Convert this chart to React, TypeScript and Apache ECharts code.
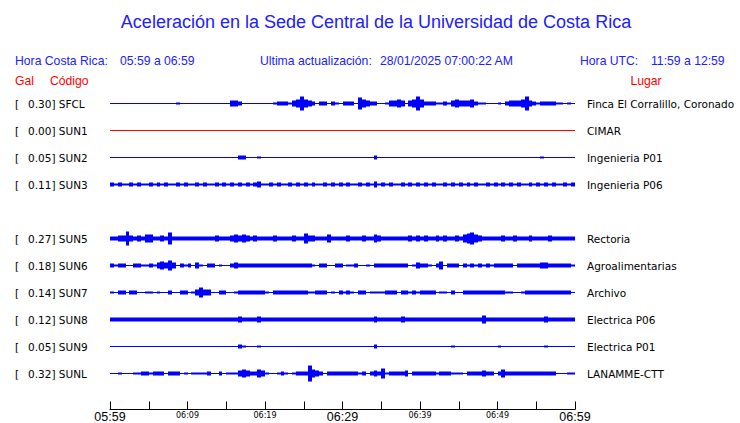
import { useEffect, useRef } from 'react';
import * as echarts from 'echarts';

const TITLE = 'Aceleración en la Sede Central de la Universidad de Costa Rica';
const CODES = ['SFCL', 'SUN1', 'SUN2', 'SUN3', '', 'SUN5', 'SUN6', 'SUN7', 'SUN8', 'SUN9', 'SUNL'];
const GAL = ['0.30', '0.00', '0.05', '0.11', '', '0.27', '0.18', '0.14', '0.12', '0.05', '0.32'];
const PLACES = ['Finca El Corralillo, Coronado', 'CIMAR', 'Ingenieria P01', 'Ingenieria P06', '', 'Rectoria', 'Agroalimentarias', 'Archivo', 'Electrica P06', 'Electrica P01', 'LANAMME-CTT'];
const TIME_TICKS = [0, 10, 20, 30, 40, 50, 60];
const TIME_LABELS = ['05:59', '06:09', '06:19', '06:29', '06:39', '06:49', '06:59'];
const MAJOR_LABELS = ['05:59', '06:29', '06:59'];
const BIN_MINUTES = 0.5;
const AMP_PER_ROW = 27;

// envelope half-amplitudes, one value per 30 s bin (120 bins = 60 min)
const AMP_SFCL = [
  0,0,0,0,0,0,0,0,0,0, 0,0,0,0,0,0,0,1,0,0, 0,0,0,0,0,0,0,0,0,0, 0,3,3,2,0,0,0,0,0,0,
  0,0,1,2,2,2,1,3,4,7, 4,3,2,0,2,2,0,2,1,0, 2,2,2,0,6,4,3,2,2,0, 0,1,3,3,4,3,0,3,4,7,
  4,2,2,2,1,1,2,1,3,4, 3,3,3,4,2,1,1,0,0,0, 1,0,2,3,3,3,4,7,3,2, 1,2,2,2,2,1,1,0,1,0,
];
const AMP_SUN1 = [
  0,0,0,0,0,0,0,0,0,0, 0,0,0,0,0,0,0,0,0,0, 0,0,0,0,0,0,0,0,0,0, 0,0,0,0,0,0,0,0,0,0,
  0,0,0,0,0,0,0,0,0,0, 0,0,0,0,0,0,0,0,0,0, 0,0,0,0,0,0,0,0,0,0, 0,0,0,0,0,0,0,0,0,0,
  0,0,0,0,0,0,0,0,0,0, 0,0,0,0,0,0,0,0,0,0, 0,0,0,0,0,0,0,0,0,0, 0,0,0,0,0,0,0,0,0,0,
];
const AMP_SUN2 = [
  0,0,0,0,0,0,0,0,0,0, 0,0,0,0,0,0,0,0,0,0, 0,0,0,0,0,0,0,0,0,0, 0,0,0,2,2,0,0,0,1,0,
  0,0,0,0,0,0,0,0,0,0, 0,0,0,0,0,0,0,0,0,0, 0,0,0,0,0,0,0,0,2,0, 0,0,0,0,0,0,0,0,0,0,
  0,0,0,0,0,0,0,0,0,0, 0,0,0,0,0,0,0,0,0,0, 0,0,0,0,0,0,0,0,0,0, 0,1,0,0,0,0,0,0,0,0,
];
const AMP_SUN3 = [
  2,1,2,1,1,2,1,2,1,1, 2,1,2,1,2,1,1,2,1,2, 1,1,2,1,2,1,1,2,1,2, 1,2,1,2,1,2,1,2,3,1,
  1,2,1,2,1,1,2,1,2,1, 2,1,2,1,1,2,1,2,1,2, 1,2,1,1,2,1,2,1,3,1, 2,1,2,1,1,2,1,2,1,2,
  1,2,1,2,1,1,2,1,2,1, 2,1,2,1,2,1,1,2,1,2, 1,2,1,2,1,2,1,1,2,1, 2,1,2,1,2,1,1,2,1,2,
];
const AMP_SUN5 = [
  2,2,3,3,7,3,2,3,2,4, 4,2,2,3,2,6,2,2,2,2, 2,2,2,2,2,2,2,3,2,2, 2,3,4,3,4,3,2,3,2,2,
  2,2,3,2,2,2,2,3,2,2, 5,3,3,2,2,2,4,2,2,2, 2,3,2,2,2,3,2,2,4,3, 2,2,2,2,2,2,2,3,2,3,
  2,3,2,2,3,2,3,2,2,3, 2,4,5,6,4,3,2,2,2,2, 2,3,2,2,3,2,2,2,3,2, 2,2,2,3,2,2,2,2,2,2,
];
const AMP_SUN6 = [
  2,1,2,2,0,0,2,2,1,1, 2,1,3,4,3,5,3,0,2,1, 2,0,3,1,0,2,2,0,1,0, 0,2,3,2,2,2,2,2,2,2,
  2,2,2,2,2,2,2,2,2,2, 2,2,1,0,2,2,0,0,2,2, 0,1,1,2,0,0,1,0,2,2, 2,2,2,2,2,2,2,0,1,3,
  2,2,1,0,2,4,0,2,2,2, 0,2,1,2,1,2,1,2,1,2, 2,2,2,2,0,2,2,2,2,2, 2,3,3,2,2,2,2,2,2,1,
];
const AMP_SUN7 = [
  1,0,2,2,0,2,2,0,0,1, 1,0,1,0,0,2,0,0,2,2, 0,1,3,5,3,3,0,0,2,2, 0,0,1,2,2,2,2,2,2,2,
  1,0,2,2,2,2,2,2,2,2, 2,1,1,2,2,2,0,1,0,2, 1,2,1,0,2,2,0,1,1,1, 1,2,2,2,0,2,2,1,2,1,
  2,2,2,2,0,1,1,0,2,0, 0,2,2,2,2,2,2,2,2,2, 2,2,1,1,0,0,1,2,2,2, 2,2,2,2,2,2,2,2,2,0,
];
const AMP_SUN8 = [
  2,2,2,2,2,2,2,2,2,2, 2,2,2,2,2,2,2,2,2,2, 2,2,2,2,2,2,2,2,2,2, 2,2,2,3,2,2,2,2,3,2,
  2,2,2,2,2,2,2,2,2,2, 2,2,2,2,2,2,2,2,2,2, 2,2,2,2,2,2,2,2,3,2, 2,2,2,2,2,3,2,2,2,2,
  2,2,2,2,2,2,2,2,2,2, 2,2,2,2,2,2,4,2,2,2, 2,2,2,2,2,2,2,2,2,2, 2,2,3,2,2,2,2,2,2,2,
];
const AMP_SUN9 = [
  0,0,0,0,0,0,0,0,0,0, 0,0,0,0,0,0,0,0,0,0, 0,0,0,0,0,0,0,0,0,0, 0,0,0,2,1,0,0,0,1,0,
  0,0,0,0,0,0,0,0,0,0, 0,0,0,0,0,0,0,0,0,0, 0,0,0,0,0,0,0,0,2,0, 0,0,0,0,0,0,0,0,0,0,
  0,0,0,0,0,0,0,0,1,0, 0,0,0,0,0,0,0,0,0,0, 1,0,0,0,0,0,0,0,0,0, 0,0,1,0,0,0,0,0,0,0,
];
const AMP_SUNL = [
  0,0,1,0,0,0,1,1,2,2, 1,2,2,2,0,2,2,2,0,1, 0,1,1,1,1,2,0,0,2,0, 1,1,1,3,4,3,2,2,4,3,
  1,0,0,1,2,1,0,1,2,2, 2,8,4,3,2,0,2,2,2,2, 2,2,2,2,1,2,0,2,3,2, 5,1,2,2,2,2,3,0,2,2,
  2,2,2,2,1,2,2,2,1,1, 1,0,2,2,2,2,3,2,2,0, 2,4,2,2,2,2,2,2,2,2, 2,2,2,2,2,0,0,0,1,1,
];
const TRACES = [AMP_SFCL, AMP_SUN1, AMP_SUN2, AMP_SUN3, null, AMP_SUN5, AMP_SUN6, AMP_SUN7, AMP_SUN8, AMP_SUN9, AMP_SUNL];

const BLUE = '#0000ff';
const HEADER_BLUE = '#2020ff';
const RED = '#ff0000';
const LABEL_FONT = 'DejaVu Sans';
const HEADER_FONT = 'Liberation Sans';

export default function App() {
  const ref = useRef<HTMLDivElement>(null);
  useEffect(() => {
    if (!ref.current) return;
    const chart = echarts.init(ref.current, null, { renderer: 'svg' });

    const envData: number[][] = [];
    const series: any[] = [];
    TRACES.forEach((amps, row) => {
      if (!amps) return;
      const color = CODES[row] === 'SUN1' ? RED : BLUE;
      series.push({
        type: 'line',
        data: [[TIME_TICKS[0], row], [TIME_TICKS[TIME_TICKS.length - 1], row]],
        showSymbol: false,
        symbol: 'none',
        lineStyle: { color, width: 1 },
        silent: true,
        z: 2,
      });
      amps.forEach((a, i) => {
        if (a > 0) envData.push([i * BIN_MINUTES, row, a]);
      });
    });
    series.push({
      type: 'custom',
      data: envData,
      encode: { x: 0, y: 1 },
      silent: true,
      z: 3,
      renderItem: (params: any, api: any) => {
        const t = api.value(0);
        const row = api.value(1);
        const a = api.value(2) / AMP_PER_ROW;
        const p0 = api.coord([t, row - a]);
        const p1 = api.coord([t + BIN_MINUTES, row + a]);
        const x0 = Math.round(p0[0]);
        const x1 = Math.round(p1[0]);
        const y0 = Math.min(p0[1], p1[1]);
        const y1 = Math.max(p0[1], p1[1]);
        const color = CODES[row] === 'SUN1' ? RED : BLUE;
        return {
          type: 'rect',
          shape: { x: x0, y: y0, width: Math.max(1, x1 - x0), height: y1 - y0 },
          style: { fill: color },
        };
      },
    });

    const txt = (text: string, x: number, y: number, fill: string, size: number, align = 'left') => ({
      type: 'text',
      x,
      y,
      silent: true,
      style: { text, fill, fontSize: size, fontFamily: HEADER_FONT, textAlign: align, textVerticalAlign: 'middle' },
    });

    chart.setOption({
      animation: false,
      backgroundColor: '#ffffff',
      grid: { left: 110, right: 165, top: 76.5, bottom: 22.5, outerBoundsMode: 'none' },
      xAxis: {
        type: 'value',
        position: 'bottom',
        min: TIME_TICKS[0],
        max: TIME_TICKS[TIME_TICKS.length - 1],
        interval: 5,
        offset: 9,
        axisLine: { show: true, onZero: false, lineStyle: { color: '#000', width: 1 } },
        axisTick: { show: true, inside: true, length: 8, lineStyle: { color: '#000', width: 1 } },
        splitLine: { show: false },
        axisLabel: {
          margin: 1,
          showMinLabel: true,
          showMaxLabel: true,
          hideOverlap: false,
          color: '#000',
          formatter: (v: number) => {
            const idx = TIME_TICKS.indexOf(v);
            if (idx < 0) return '';
            const lab = TIME_LABELS[idx];
            return MAJOR_LABELS.includes(lab) ? `{big|${lab}}` : `{small|${lab}}`;
          },
          rich: {
            big: { fontSize: 12.5, lineHeight: 12, fontFamily: HEADER_FONT, color: '#000', letterSpacing: 1.4 },
            small: { fontSize: 8, lineHeight: 9, fontFamily: LABEL_FONT, color: '#000' },
          },
        },
      },
      yAxis: [
        {
          type: 'value',
          inverse: true,
          min: -1,
          max: 11,
          interval: 1,
          axisLine: { show: false },
          axisTick: { show: false },
          splitLine: { show: false },
          axisLabel: {
            align: 'left',
            margin: 95,
            formatter: (v: number) => (CODES[v] ? `{a|[}{b|${GAL[v]}] ${CODES[v]}}` : ''),
            rich: {
              a: { width: 13, fontSize: 10.5, fontFamily: LABEL_FONT, color: '#000' },
              b: { fontSize: 10.5, fontFamily: LABEL_FONT, color: '#000' },
            },
          },
        },
        {
          type: 'value',
          position: 'right',
          inverse: true,
          min: -1,
          max: 11,
          interval: 1,
          axisLine: { show: false },
          axisTick: { show: false },
          splitLine: { show: false },
          axisLabel: {
            align: 'left',
            margin: 12,
            fontSize: 10.5,
            fontFamily: LABEL_FONT,
            color: '#000',
            formatter: (v: number) => PLACES[v] || '',
          },
        },
      ],
      series,
      graphic: [
        txt(TITLE, 376, 22, HEADER_BLUE, 18, 'center'),
        txt('Hora Costa Rica:', 15, 60.5, HEADER_BLUE, 12.2),
        txt('05:59 a 06:59', 120, 60.5, HEADER_BLUE, 12.2),
        txt('Ultima actualización:', 260, 60.5, HEADER_BLUE, 12.2),
        txt('28/01/2025 07:00:22 AM', 380, 60.5, HEADER_BLUE, 12.2),
        txt('Hora UTC:', 580, 60.5, HEADER_BLUE, 12.2),
        txt('11:59 a 12:59', 651, 60.5, HEADER_BLUE, 12.2),
        txt('Gal', 15, 81, RED, 12.2),
        txt('Código', 50, 81, RED, 12.2),
        txt('Lugar', 646, 81, RED, 12.2, 'center'),
      ],
    });
    return () => chart.dispose();
  }, []);
  return <div ref={ref} style={{ width: 740, height: 423, position: 'absolute', left: 0, top: 0 }} />;
}
